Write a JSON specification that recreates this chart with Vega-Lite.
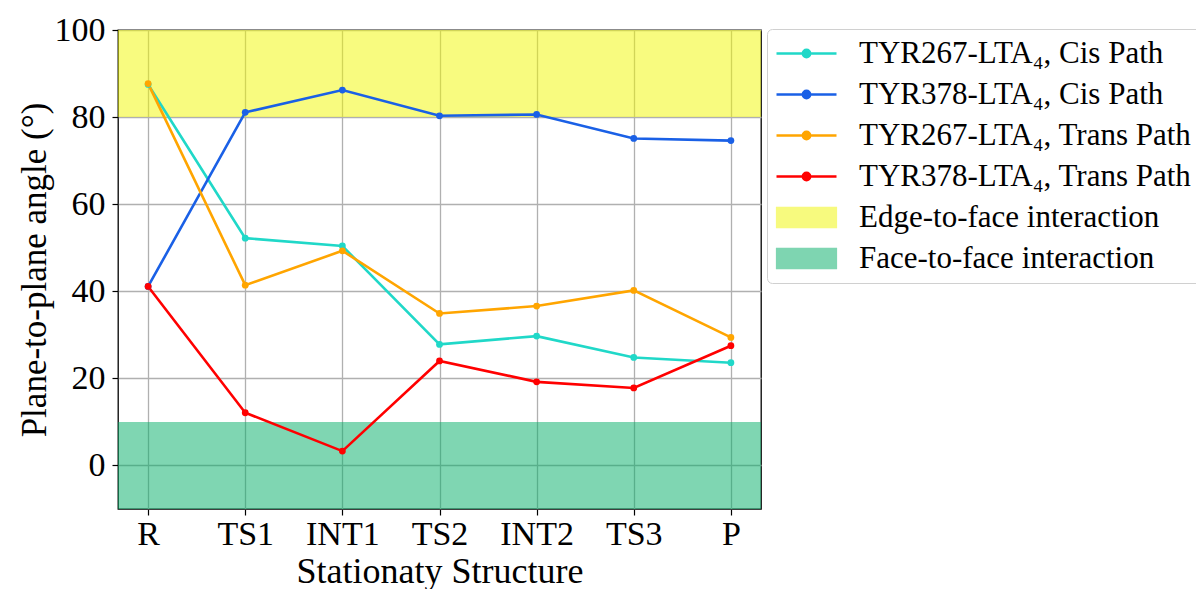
{
  "$schema": "https://vega.github.io/schema/vega-lite/v6.json",
  "width": 643,
  "height": 479,
  "autosize": {"type": "none"},
  "padding": {"left": 118, "top": 30, "right": 435, "bottom": 80},
  "background": "white",
  "config": {
    "view": {"stroke": "black", "strokeWidth": 1.3},
    "font": "Liberation Serif",
    "axis": {"titleFont": "Liberation Serif", "labelFont": "Liberation Serif"},
    "legend": {"labelFont": "Liberation Serif"}
  },
  "datasets": {
    "lines": [
      {"name": "TYR267-LTA₄, Cis Path", "stage": "R", "angle": 87.5},
      {"name": "TYR267-LTA₄, Cis Path", "stage": "TS1", "angle": 52.2},
      {"name": "TYR267-LTA₄, Cis Path", "stage": "INT1", "angle": 50.4},
      {"name": "TYR267-LTA₄, Cis Path", "stage": "TS2", "angle": 27.8},
      {"name": "TYR267-LTA₄, Cis Path", "stage": "INT2", "angle": 29.7},
      {"name": "TYR267-LTA₄, Cis Path", "stage": "TS3", "angle": 24.8},
      {"name": "TYR267-LTA₄, Cis Path", "stage": "P", "angle": 23.6},
      {"name": "TYR378-LTA₄, Cis Path", "stage": "R", "angle": 41.1},
      {"name": "TYR378-LTA₄, Cis Path", "stage": "TS1", "angle": 81.1},
      {"name": "TYR378-LTA₄, Cis Path", "stage": "INT1", "angle": 86.2},
      {"name": "TYR378-LTA₄, Cis Path", "stage": "TS2", "angle": 80.3},
      {"name": "TYR378-LTA₄, Cis Path", "stage": "INT2", "angle": 80.6},
      {"name": "TYR378-LTA₄, Cis Path", "stage": "TS3", "angle": 75.1},
      {"name": "TYR378-LTA₄, Cis Path", "stage": "P", "angle": 74.6},
      {"name": "TYR267-LTA₄, Trans Path", "stage": "R", "angle": 87.7},
      {"name": "TYR267-LTA₄, Trans Path", "stage": "TS1", "angle": 41.4},
      {"name": "TYR267-LTA₄, Trans Path", "stage": "INT1", "angle": 49.3},
      {"name": "TYR267-LTA₄, Trans Path", "stage": "TS2", "angle": 34.9},
      {"name": "TYR267-LTA₄, Trans Path", "stage": "INT2", "angle": 36.6},
      {"name": "TYR267-LTA₄, Trans Path", "stage": "TS3", "angle": 40.2},
      {"name": "TYR267-LTA₄, Trans Path", "stage": "P", "angle": 29.4},
      {"name": "TYR378-LTA₄, Trans Path", "stage": "R", "angle": 41.1},
      {"name": "TYR378-LTA₄, Trans Path", "stage": "TS1", "angle": 12.1},
      {"name": "TYR378-LTA₄, Trans Path", "stage": "INT1", "angle": 3.3},
      {"name": "TYR378-LTA₄, Trans Path", "stage": "TS2", "angle": 24.0},
      {"name": "TYR378-LTA₄, Trans Path", "stage": "INT2", "angle": 19.2},
      {"name": "TYR378-LTA₄, Trans Path", "stage": "TS3", "angle": 17.8},
      {"name": "TYR378-LTA₄, Trans Path", "stage": "P", "angle": 27.5}
    ],
    "bands": [
      {"name": "Edge-to-face interaction", "lo": 80, "hi": 100},
      {"name": "Face-to-face interaction", "lo": -10, "hi": 10}
    ]
  },
  "layer": [
    {
      "data": {"name": "bands"},
      "mark": {"type": "rect", "opacity": 0.5},
      "encoding": {
        "y": {"field": "lo", "type": "quantitative"},
        "y2": {"field": "hi"},
        "color": {"field": "name", "type": "nominal"}
      }
    },
    {
      "data": {"name": "lines"},
      "mark": {"type": "line", "strokeWidth": 2.6},
      "encoding": {
        "x": {
          "field": "stage",
          "type": "ordinal",
          "scale": {"type": "point", "domain": ["R", "TS1", "INT1", "TS2", "INT2", "TS3", "P"], "padding": 0.31},
          "axis": {
            "title": "Stationaty Structure",
            "titleFont": "Liberation Serif", "titleFontSize": 36, "titleFontWeight": "normal", "titleColor": "black", "titlePadding": 3,
            "labelFont": "Liberation Serif", "labelFontSize": 34, "labelColor": "black", "labelAngle": 0, "labelPadding": 2,
            "domain": false, "ticks": true, "tickColor": "black", "tickSize": 6, "tickWidth": 1.2,
            "grid": true, "gridColor": "#b0b0b0", "gridWidth": 1.3, "gridOpacity": 1
          }
        },
        "y": {"field": "angle", "type": "quantitative"},
        "color": {"field": "name", "type": "nominal"}
      }
    },
    {
      "data": {"name": "lines"},
      "mark": {"type": "point", "filled": true, "size": 46, "opacity": 1},
      "encoding": {
        "x": {
          "field": "stage",
          "type": "ordinal",
          "scale": {"type": "point", "domain": ["R", "TS1", "INT1", "TS2", "INT2", "TS3", "P"], "padding": 0.31}
        },
        "y": {"field": "angle", "type": "quantitative"},
        "color": {"field": "name", "type": "nominal"}
      }
    }
  ],
  "encoding": {
    "y": {
      "type": "quantitative",
      "scale": {"domain": [-10, 100], "nice": false, "zero": false},
      "axis": {
        "title": "Plane-to-plane angle (°)",
        "values": [0, 20, 40, 60, 80, 100],
        "titleFont": "Liberation Serif", "titleFontSize": 35, "titleFontWeight": "normal", "titleColor": "black", "titlePadding": 2,
        "labelFont": "Liberation Serif", "labelFontSize": 34, "labelColor": "black", "labelPadding": 7,
        "domain": false, "ticks": true, "tickColor": "black", "tickSize": 6, "tickWidth": 1.2,
        "grid": true, "gridColor": "#b0b0b0", "gridWidth": 1.3, "gridOpacity": 1
      }
    },
    "color": {
      "field": "name",
      "type": "nominal",
      "scale": {
        "domain": ["TYR267-LTA₄, Cis Path", "TYR378-LTA₄, Cis Path", "TYR267-LTA₄, Trans Path", "TYR378-LTA₄, Trans Path", "Edge-to-face interaction", "Face-to-face interaction"],
        "range": ["#20d8c8", "#1a60e6", "#ffa500", "#ff0000", "#f1f700", "#00ad65"]
      },
      "legend": {
        "title": null,
        "orient": "none",
        "legendX": 649,
        "legendY": -1,
        "padding": 9,
        "strokeColor": "#d0d0d0",
        "fillColor": "white",
        "cornerRadius": 5,
        "symbolSize": 3600,
        "labelFont": "Liberation Serif",
        "labelFontSize": 31,
        "labelColor": "black",
        "labelLimit": 0,
        "labelOffset": 52,
        "rowPadding": 9,
        "encode": {
          "symbols": {
            "update": {
              "shape": {"signal": "(datum.value == 'Edge-to-face interaction' || datum.value == 'Face-to-face interaction') ? 'M-0.5,-0.34H1.5V0.34H-0.5Z' : 'M-0.5,0H1.5M0.38,0A0.12,0.12 0 1,0 0.62,0A0.12,0.12 0 1,0 0.38,0'"},
              "fill": {"signal": "scale('color', datum.value)"},
              "stroke": {"signal": "datum.value == 'Edge-to-face interaction' ? '#e0e000' : datum.value == 'Face-to-face interaction' ? '#00a060' : scale('color', datum.value)"},
              "strokeWidth": {"signal": "(datum.value == 'Edge-to-face interaction' || datum.value == 'Face-to-face interaction') ? 1.2 : 2.6"},
              "opacity": {"signal": "(datum.value == 'Edge-to-face interaction' || datum.value == 'Face-to-face interaction') ? 0.5 : 1"},
              "fillOpacity": {"value": 1},
              "strokeOpacity": {"value": 1}
            }
          }
        }
      }
    }
  }
}
